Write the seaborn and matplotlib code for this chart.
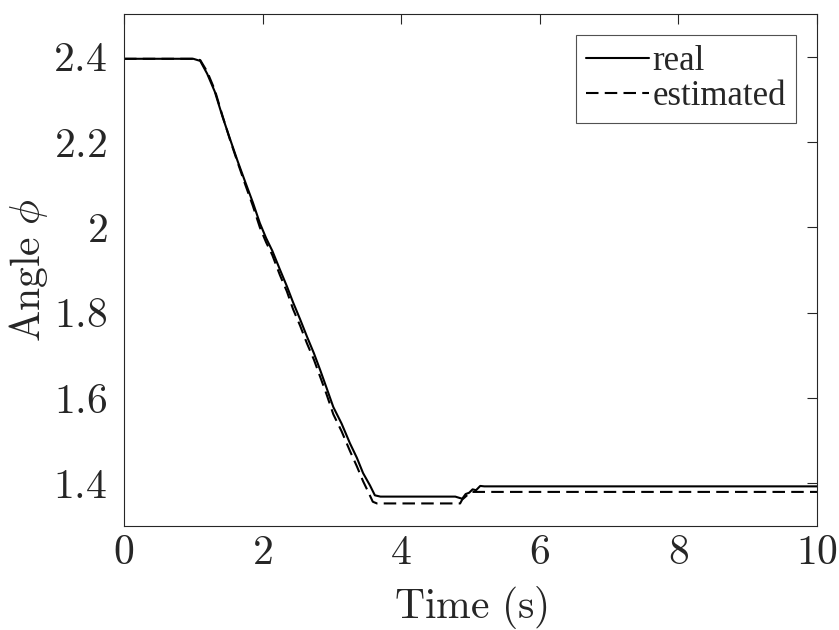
import numpy as np
import pandas as pd
import matplotlib
matplotlib.use("Agg")
import matplotlib.pyplot as plt
import seaborn as sns

# Data
t_real = [0, 1.0, 1.1, 1.2, 1.31, 1.42, 1.53, 1.64, 1.75, 1.86, 1.96, 2.05, 2.14, 2.25,
          2.35, 2.44, 2.54, 2.64, 2.74, 2.83, 2.92, 3.02, 3.14, 3.26, 3.36, 3.45, 3.55,
          3.62, 3.7, 4.78, 4.84, 4.88, 4.93, 4.98, 5.03, 5.08, 5.14, 5.2, 10]
phi_real = [2.395, 2.395, 2.39, 2.36, 2.318, 2.26, 2.207, 2.155, 2.106, 2.058, 2.01, 1.975,
            1.945, 1.901, 1.862, 1.824, 1.785, 1.744, 1.705, 1.666, 1.625, 1.579, 1.54,
            1.494, 1.46, 1.424, 1.395, 1.372, 1.369, 1.369, 1.366, 1.364, 1.375, 1.378,
            1.386, 1.384, 1.394, 1.393, 1.393]

t_est = [0, 1.0, 1.1, 1.2, 1.31, 1.42, 1.53, 1.64, 1.75, 1.86, 1.96, 2.05, 2.14, 2.25,
         2.35, 2.44, 2.54, 2.64, 2.74, 2.83, 2.92, 3.02, 3.14, 3.26, 3.36, 3.45, 3.53,
         3.59, 3.65, 4.85, 4.88, 4.95, 5.02, 10]
phi_est = [2.395, 2.395, 2.392, 2.365, 2.322, 2.262, 2.205, 2.152, 2.100, 2.05, 2.0, 1.965,
           1.935, 1.888, 1.85, 1.808, 1.77, 1.728, 1.69, 1.65, 1.61, 1.562, 1.522, 1.476,
           1.44, 1.405, 1.378, 1.357, 1.353, 1.353, 1.362, 1.372, 1.380, 1.380]

series_names = ["real", "estimated"]
x_ticks = [0, 2, 4, 6, 8, 10]
y_ticks = [1.4, 1.6, 1.8, 2.0, 2.2, 2.4]
y_tick_labels = ["1.4", "1.6", "1.8", "2", "2.2", "2.4"]

df = pd.concat([
    pd.DataFrame({"t": t_real, "phi": phi_real, "series": series_names[0]}),
    pd.DataFrame({"t": t_est, "phi": phi_est, "series": series_names[1]}),
])

sns.set_theme(style="white")
plt.rcParams["font.family"] = ["Liberation Serif", "DejaVu Serif"]
plt.rcParams["mathtext.fontset"] = "cm"

fig = plt.figure(figsize=(8.39, 6.30), dpi=100)
ax = fig.add_axes([0.1478, 0.165, 0.826, 0.8128])

sns.lineplot(data=df, x="t", y="phi", hue="series", style="series",
             palette=["black", "black"], dashes=[(None, None), (6, 3)],
             linewidth=1.5, ax=ax, sort=False, estimator=None)

ax.set_xlim(0, 10)
ax.set_ylim(1.3, 2.5)
ax.set_xticks(x_ticks)
ax.set_xticklabels([f"${v}$" for v in x_ticks])
ax.set_yticks(y_ticks)
ax.set_yticklabels([f"${s}$" for s in y_tick_labels])
ax.set_xlabel(r"$\mathrm{Time\ (s)}$", fontsize=30, color="#262626")
ax.set_ylabel(r"$\mathrm{Angle}\ \phi$", fontsize=30, color="#262626")
ax.xaxis.set_label_coords(0.5, -0.113)
ax.yaxis.set_label_coords(-0.107, 0.5)
ax.tick_params(direction="in", length=7, width=0.8, top=True, right=True,
               labelsize=30, colors="#262626")
ax.tick_params(axis="x", pad=6)
ax.tick_params(axis="y", pad=12)
for s in ax.spines.values():
    s.set_color("#262626")
    s.set_linewidth(0.8)
    s.set_visible(True)

leg = ax.legend(loc="upper right", fontsize=25, frameon=True, fancybox=False,
                edgecolor="#262626", handlelength=1.8, handletextpad=0.1,
                borderpad=0.3, labelspacing=0.05, borderaxespad=0.6)
leg.get_frame().set_linewidth(0.8)
leg.set_title(None)

fig.savefig("out.png", dpi=100)
